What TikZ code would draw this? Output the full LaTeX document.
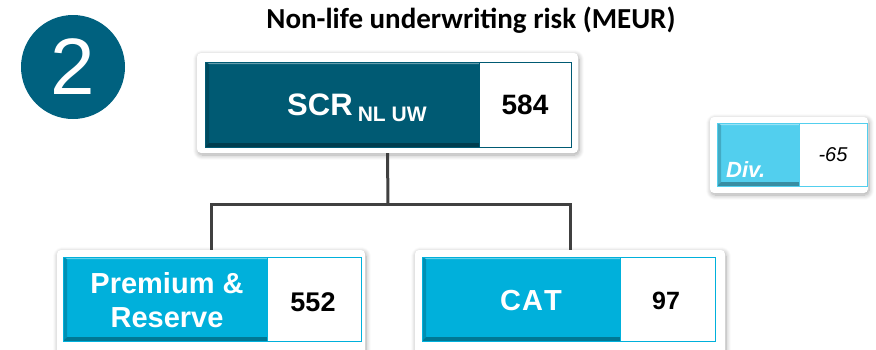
\documentclass[tikz,border=0pt]{standalone}
\usepackage{fontspec}
\setmainfont{Liberation Sans}
\newfontfamily\titlefont{Carlito}
\usetikzlibrary{shadows.blur}

\definecolor{scrteal}{HTML}{005A73}
\definecolor{badgeteal}{HTML}{00617F}
\definecolor{catblue}{HTML}{00B0DB}
\definecolor{divblue}{HTML}{52CFEE}
\definecolor{linkgray}{HTML}{404040}

% bevelled bar: x1, y1, x2, y2, colour
\newcommand\bevelbar[5]{%
  \fill[#5] (#1,#2) rectangle (#3,#4);
  \fill[#5!60!white] (#1,#2) -- (#3,#2) -- (#3,{#2+2}) -- ({#1+4},{#2+2}) -- cycle;
  \fill[#5!82!black] (#1,#2) -- ({#1+4},{#2+2}) -- ({#1+4},{#4-4}) -- (#1,#4) -- cycle;
  \fill[#5!68!black] (#1,#4) -- ({#1+4},{#4-4}) -- (#3,{#4-4}) -- (#3,#4) -- cycle;
}

\begin{document}
\begin{tikzpicture}[x=1pt,y=-1pt,
  card/.style={fill=white, rounded corners=4pt, inner sep=0pt,
    blur shadow={shadow xshift=1pt, shadow yshift=-2pt, shadow blur steps=8,
      shadow blur radius=5pt, shadow opacity=35}},
  valbox/.style={fill=white, draw=#1, line width=1pt},
  link/.style={draw=linkgray, line width=3pt},
  label/.style={text=white, font=\bfseries, inner sep=0pt},
  value/.style={text=black, font=\bfseries, inner sep=0pt}]

\useasboundingbox (0,0) rectangle (876,349);

% badge
\node[circle, fill=badgeteal, minimum size=104pt, inner sep=0pt,
      text=white, font=\fontsize{80}{80}\selectfont] (badge) at (73,67) {2};

% title
\node[font=\titlefont\bfseries\fontsize{29}{34}\selectfont, inner sep=0pt]
  (title) at (471,20) {Non-life underwriting risk (MEUR)};

% cards
\coordinate (junc) at (388,204);
\node[card, minimum width=381pt, minimum height=100pt] (scr) at (387.5,103) {};
\node[card, minimum width=308pt, minimum height=104pt] (prem) at (211,302) {};
\node[card, minimum width=310pt, minimum height=104pt] (cat) at (570,302) {};
\node[card, minimum width=158pt, minimum height=76pt] (div) at (789,155) {};

% connectors
\draw[link] (scr.south) -- (junc);
\draw[link] (prem.north) |- (junc);
\draw[link] (cat.north) |- (junc);

% SCR NL UW
\bevelbar{205}{62}{479}{147}{scrteal}
\draw[valbox=scrteal] (479,62) rectangle (571,147);
\draw[scrteal, line width=1pt] (205,62) rectangle (571,147);
\node[label, font=\bfseries\fontsize{31}{36}\selectfont, anchor=base west]
  (scrlbl) at (287,115) {SCR\,{\fontsize{21}{24}\selectfont\raisebox{-6pt}{NL UW}}};
\node[value, font=\bfseries\fontsize{28}{32}\selectfont] (scrval) at (525,105) {584};

% Premium & Reserve
\bevelbar{63}{257}{267}{341}{catblue}
\draw[valbox=catblue] (267,257) rectangle (361,341);
\draw[catblue, line width=1pt] (63,257) rectangle (361,341);
\node[label, align=center, font=\bfseries\fontsize{29}{34}\selectfont]
  (premlbl) at (167,300) {Premium \&\\Reserve};
\node[value, font=\bfseries\fontsize{27}{30}\selectfont] (premval) at (313,302) {552};

% CAT
\bevelbar{422}{257}{620}{341}{catblue}
\draw[valbox=catblue] (620,257) rectangle (715,341);
\draw[catblue, line width=1pt] (422,257) rectangle (715,341);
\node[label, font=\bfseries\fontsize{29}{34}\selectfont] (catlbl) at (531,301)
  {C\kern1ptA\kern1ptT};
\node[value, font=\bfseries\fontsize{25}{30}\selectfont] (catval) at (666,301) {97};

% diversification
\bevelbar{717}{123}{799}{186}{divblue}
\draw[valbox=divblue] (799,123) rectangle (867,186);
\draw[divblue, line width=1pt] (717,123) rectangle (867,186);
\node[label, font=\bfseries\itshape\fontsize{22}{26}\selectfont, anchor=base west]
  (divlbl) at (726,177) {Div.};
\node[value, font=\itshape\fontsize{20}{24}\selectfont] (divval) at (833,155) {-65};

\end{tikzpicture}
\end{document}
